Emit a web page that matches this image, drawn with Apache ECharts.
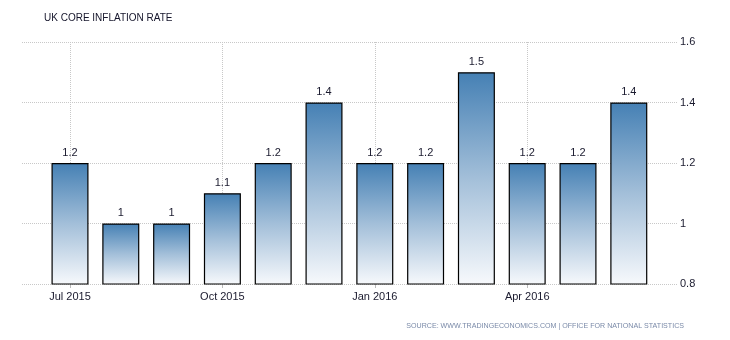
<!DOCTYPE html>
<html>
<head>
<meta charset="utf-8">
<script src="https://cdn.jsdelivr.net/npm/echarts@6/dist/echarts.min.js"></script>
<style>html,body{margin:0;padding:0;background:#fff;}#c{width:730px;height:340px;}</style>
</head>
<body>
<div id="c"></div>
<script>
const categories = ['Jul 2015','Aug 2015','Sep 2015','Oct 2015','Nov 2015','Dec 2015','Jan 2016','Feb 2016','Mar 2016','Apr 2016','May 2016','Jun 2016'];
const values = [1.2, 1, 1, 1.1, 1.2, 1.4, 1.2, 1.2, 1.5, 1.2, 1.2, 1.4];
const yTicks = [0.8, 1, 1.2, 1.4, 1.6];
const titleText = 'UK CORE INFLATION RATE';
const sourceText = 'SOURCE: WWW.TRADINGECONOMICS.COM | OFFICE FOR NATIONAL STATISTICS';

const chart = echarts.init(document.getElementById('c'), null, {renderer: 'canvas'});
const font = 'Liberation Sans, Arial, sans-serif';
const yMin = yTicks[0], yMax = yTicks[yTicks.length - 1];

chart.setOption({
  animation: false,
  backgroundColor: '#fff',
  title: [{
    text: titleText, left: 39, top: 8,
    textStyle: {fontFamily: font, fontSize: 10, fontWeight: 'normal', color: '#14142a'}
  }, {
    text: sourceText, right: 41, top: 318,
    textStyle: {fontFamily: font, fontSize: 7.1, fontWeight: 'normal', color: '#7a8aa8'}
  }],
  grid: [
    {left: 22, right: 53, top: 42, bottom: 56},
    {left: 44.6, right: 75.8, top: 42, bottom: 56}
  ],
  xAxis: [
    {gridIndex: 0, type: 'category', data: categories, show: false},
    {gridIndex: 1, type: 'category', data: categories, boundaryGap: true,
      axisLine: {show: false},
      axisTick: {show: true, alignWithLabel: true, interval: 2, length: 4, lineStyle: {color: '#bbb'}},
      axisLabel: {interval: 2, margin: 7, fontFamily: font, fontSize: 11, color: '#1a1a2e'},
      splitLine: {show: true, alignWithLabel: true, interval: 2, lineStyle: {color: '#c8c8c8', type: [1, 1], width: 1}}
    }
  ],
  yAxis: [
    {gridIndex: 0, type: 'value', position: 'right', min: yMin, max: yMax, interval: 0.2,
      axisLine: {show: false}, axisTick: {show: false},
      axisLabel: {margin: 3, padding: [6, 0, 0, 0], fontFamily: font, fontSize: 11, color: '#1a1a2e', formatter: v => String(+v.toFixed(1))},
      splitLine: {show: true, lineStyle: {color: '#c8c8c8', type: [1, 1], width: 1}}
    },
    {gridIndex: 1, type: 'value', min: yMin, max: yMax, interval: 0.2, show: false, splitLine: {show: false}}
  ],
  series: [{
    type: 'bar', xAxisIndex: 1, yAxisIndex: 1,
    data: values, barWidth: 37,
    itemStyle: {
      borderColor: '#000', borderWidth: 1.2,
      color: new echarts.graphic.LinearGradient(0, 0, 0, 1, [
        {offset: 0, color: '#4580b4'},
        {offset: 0.5, color: '#a3bfd9'},
        {offset: 1, color: '#f7f9fc'}
      ])
    },
    label: {show: true, position: 'top', distance: 5, fontFamily: font, fontSize: 11, color: '#1a1a2e',
      formatter: p => String(p.value)}
  }]
});
</script>
</body>
</html>
